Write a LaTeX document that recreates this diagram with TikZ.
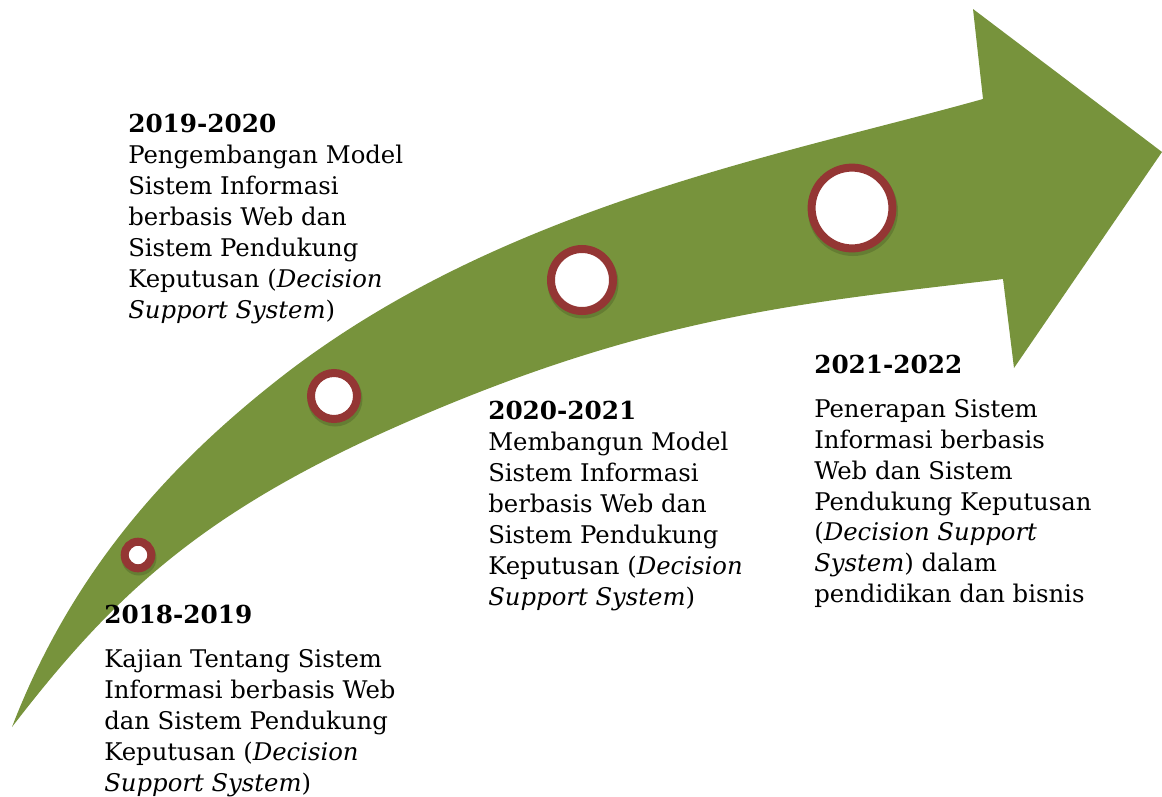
\documentclass[tikz,border=0pt]{standalone}
\usepackage{fontspec}
\setmainfont{DejaVu Serif}
\usetikzlibrary{positioning}
\definecolor{Olive}{HTML}{77933C}
\definecolor{Rust}{HTML}{943634}

\begin{document}
\begin{tikzpicture}[x=0.025cm, y=-0.025cm,
    ring/.style={circle, draw=Rust, line width=0.2cm, fill=white, inner sep=0pt},
    period/.style={anchor=north west, inner sep=0pt, align=left,
      font=\fontsize{17.3}{22}\selectfont}]
    \useasboundingbox (0,0) rectangle (1162,796);

    % Curved arrow
    \fill[Olive] (12,727) .. controls (72,571) and (170,464) .. (280,378)
      .. controls (500,206) and (783,155) .. (983,99)
      -- (973,9) -- (1162,152) -- (1014,368) -- (1003,279)
      .. controls (803,303) and (650,315) .. (400,425)
      .. controls (200,513) and (112,597) .. (12,727) -- cycle;

    % Milestones (soft shadow first)
    \fill[black, opacity=0.15] (139,558) circle (17.5);
    \fill[black, opacity=0.15] (335,399) circle (27.5);
    \fill[black, opacity=0.15] (583,283) circle (35.5);
    \fill[black, opacity=0.15] (853,211) circle (45);
    \node[ring, minimum size=0.665cm] (m1) at (138,555) {};
    \node[ring, minimum size=1.15cm] (m2) at (334,396) {};
    \node[ring, minimum size=1.55cm] (m3) at (582,280) {};
    \node[ring, minimum size=2.02cm] (m4) at (852,208) {};

    % Periods
    \node[period] (p1) at (104,605) {{\fontsize{17.6}{22}\selectfont\bfseries 2018-2019}\\[9pt]
      Kajian Tentang Sistem\\Informasi berbasis Web\\dan Sistem Pendukung\\
      Keputusan (\textit{Decision}\\\textit{Support System})};
    \node[period] (p2) at (128,114) {{\fontsize{17.6}{22}\selectfont\bfseries 2019-2020}\\
      Pengembangan Model\\Sistem Informasi\\berbasis Web dan\\Sistem Pendukung\\
      Keputusan (\textit{Decision}\\\textit{Support System})};
    \node[period] (p3) at (488,401) {{\fontsize{17.6}{22}\selectfont\bfseries 2020-2021}\\
      Membangun Model\\Sistem Informasi\\berbasis Web dan\\Sistem Pendukung\\
      Keputusan (\textit{Decision}\\\textit{Support System})};
    \node[period] (p4) at (814,355) {{\fontsize{17.6}{22}\selectfont\bfseries 2021-2022}\\[9pt]
      Penerapan Sistem\\Informasi berbasis\\Web dan Sistem\\Pendukung Keputusan\\
      (\textit{Decision Support}\\\textit{System}) dalam\\pendidikan dan bisnis};

\end{tikzpicture}
\end{document}
